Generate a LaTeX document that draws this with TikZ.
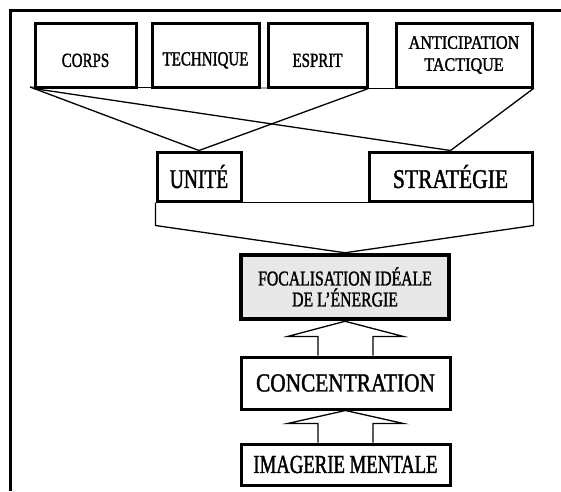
\documentclass[tikz,border=0pt]{standalone}
\usepackage{fontspec}
\setmainfont[FakeStretch=0.75, FakeBold=1.4]{Liberation Serif}
\usetikzlibrary{positioning}
\usetikzlibrary{calc}

\begin{document}
\begin{tikzpicture}[x=1pt, y=-1pt,
        BOX/.style={rectangle, draw=black, fill=white, line width=3pt, align=center, inner sep=0pt},
        TOP/.style={BOX, minimum height=64pt, font=\fontsize{20}{22}\selectfont, text height=24pt},
        MID/.style={BOX, minimum height=49pt, font=\fontsize{27}{30}\selectfont\addfontfeature{FakeStretch=0.8}},
        FOC/.style={BOX, fill=black!9, line width=4.5pt},
        LINK/.style={black, line width=1.3pt},
        BASE/.style={black, line width=0.8pt},
        HOLLOW/.style={draw=black, line width=1.3pt, line join=miter},
        ]
            \useasboundingbox (0,0) rectangle (561,491);
            \draw[line width=3pt] (10,491) -- (10,10) -- (561,10);

            % top row
            \node[TOP, minimum width=101pt] (corps) at (85.5,55) {CORPS};
            \node[TOP, minimum width=107pt] (technique) at (205.5,55) {TECHNIQUE};
            \node[TOP, minimum width=99pt] (esprit) at (317.5,55) {ESPRIT};
            \node[BOX, minimum width=136pt, minimum height=64pt, font=\fontsize{19}{22}\selectfont\addfontfeature{FakeStretch=0.85}] (anticipation) at (464,55) {ANTICIPATION\\TACTIQUE};

            % middle row
            \node[MID, minimum width=84pt, font=\fontsize{27}{30}\selectfont\addfontfeature{FakeStretch=0.72}] (unite) at (199,176.5) {UNITÉ};
            \node[MID, minimum width=163pt] (strategie) at (450.5,176.5) {STRATÉGIE};

            % column
            \node[FOC, minimum width=208pt, minimum height=64pt, font=\fontsize{21}{21}\selectfont] (foc) at (345,287) {FOCALISATION IDÉALE\\DE L’ÉNERGIE};
            \node[BOX, minimum width=209pt, minimum height=52pt, font=\fontsize{26}{28}\selectfont\addfontfeature{FakeStretch=0.82}] (conc) at (345.5,383) {CONCENTRATION};
            \node[BOX, minimum width=209pt, minimum height=41pt, font=\fontsize{26}{28}\selectfont\addfontfeature{FakeStretch=0.72}] (imag) at (345.5,464.5) {IMAGERIE MENTALE};

            \coordinate (base) at (30,87);
            \draw[BASE] (base) -- (anticipation.south west);
            \draw[LINK] (base) -- (unite.north);
            \draw[LINK] (corps.south west) -- (strategie.north);
            \draw[LINK] (esprit.south east) -- (unite.north);
            \draw[LINK] (anticipation.south east) -- (strategie.north);

            \draw[BASE] (unite.south east) -- (strategie.south west);
            \draw[LINK] (unite.south west) -- ++(0,23) -- (foc.north);
            \draw[LINK] (strategie.south east) -- ++(0,23) -- (foc.north);

            \foreach \a/\b in {conc/foc, imag/conc} {
                \draw[HOLLOW] ($(\a.north)+(-27.5,0)$) -- ($(\a.north)+(-27.5,-19)$) -- ($(\a.north)+(-58,-19)$)
                    -- (\b.south) -- ($(\a.north)+(58,-19)$) -- ($(\a.north)+(27.5,-19)$) -- ($(\a.north)+(27.5,0)$);
            }
        \end{tikzpicture}
\end{document}
